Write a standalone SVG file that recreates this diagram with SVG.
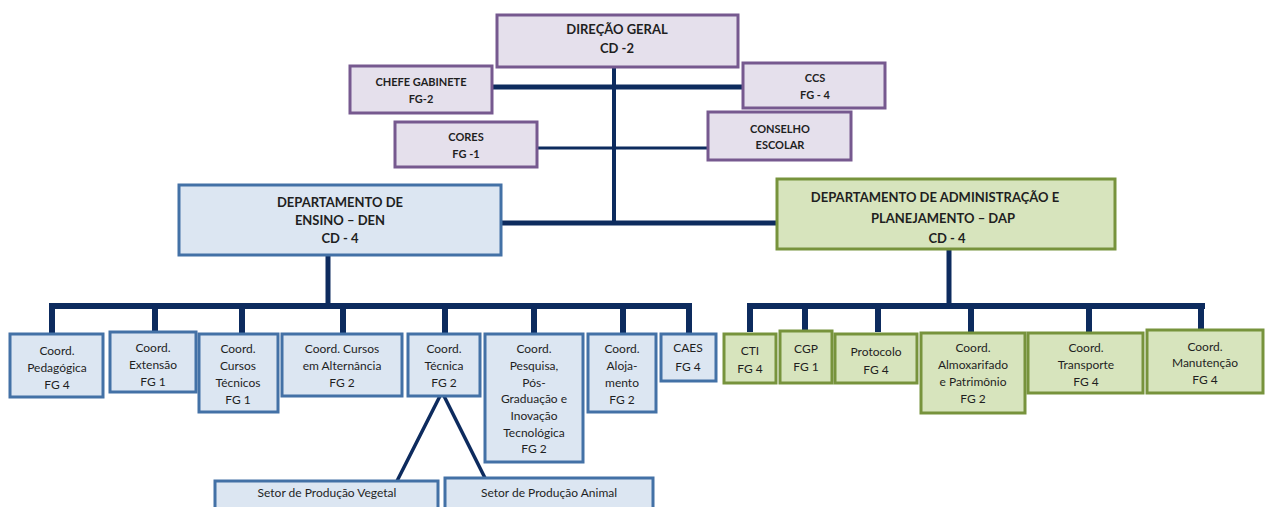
<svg xmlns="http://www.w3.org/2000/svg" width="1269" height="507" viewBox="0 0 1269 507">
<style>
.p{fill:#E5E0EC;stroke:#76598F;stroke-width:3}
.b{fill:#DCE6F2;stroke:#4371A6;stroke-width:3}
.g{fill:#D7E4BD;stroke:#77933C;stroke-width:3}
text{font-family:Lato,"Liberation Sans",sans-serif;fill:#1f1f1f;text-anchor:middle}
.h{font-weight:bold;font-size:13px}
.s{font-weight:bold;font-size:11px}
.t{font-size:12px}
.c{stroke:#0D2B5E;fill:none;stroke-linecap:butt}
</style>
<g id="connectors">
<path class="c" stroke-width="4" d="M614,67V224"/>
<path class="c" stroke-width="5" d="M492,87H743"/>
<path class="c" stroke-width="3" d="M537,148H708"/>
<path class="c" stroke-width="5" d="M502,223H777"/>
<path class="c" stroke-width="5" d="M328,256V306"/>
<path class="c" stroke-width="6" d="M49,306H692"/>
<path class="c" stroke-width="6" d="M52,306V334M155,306V332M242,306V334M343,306V334M445,306V334M534,306V334M623,306V334M689,306V334"/>
<path class="c" stroke-width="5" d="M949,250V306"/>
<path class="c" stroke-width="6" d="M747,306H1205"/>
<path class="c" stroke-width="6" d="M750,306V332M805,306V331M878,306V332M971,306V333M1089,306V333M1201,306V330"/>
<path class="c" stroke-width="3.5" d="M440,396L397,481M444,396L485,478"/>
</g>
<g id="dg"><rect class="p" x="497" y="15" width="241" height="52"/><text class="h" x="617" y="34">DIREÇÃO GERAL</text><text class="h" x="617" y="53">CD -2</text></g>
<g id="chefe"><rect class="p" x="350" y="66" width="142" height="47"/><text class="s" x="421" y="86">CHEFE GABINETE</text><text class="s" x="421" y="103">FG-2</text></g>
<g id="ccs"><rect class="p" x="743" y="63" width="142" height="45"/><text class="s" x="815" y="82">CCS</text><text class="s" x="815" y="99">FG - 4</text></g>
<g id="cores"><rect class="p" x="395" y="122" width="142" height="45"/><text class="s" x="466" y="141">CORES</text><text class="s" x="466" y="158">FG -1</text></g>
<g id="conselho"><rect class="p" x="708" y="112" width="143" height="48"/><text class="s" x="780" y="133">CONSELHO</text><text class="s" x="780" y="149">ESCOLAR</text></g>
<g id="den"><rect class="b" x="179" y="185" width="322" height="70"/><text class="h" x="340" y="207">DEPARTAMENTO DE</text><text class="h" x="340" y="225">ENSINO – DEN</text><text class="h" x="340" y="243">CD - 4</text></g>
<g id="dap"><rect class="g" x="777" y="179" width="338" height="70"/><text class="h" x="935" y="202">DEPARTAMENTO DE ADMINISTRAÇÃO E</text><text class="h" x="943" y="223">PLANEJAMENTO – DAP</text><text class="h" x="947" y="243">CD - 4</text></g>
<g id="ped"><rect class="b" x="10" y="334" width="93" height="63"/><text class="t" x="57" y="355">Coord.</text><text class="t" x="57" y="372">Pedagógica</text><text class="t" x="57" y="389">FG 4</text></g>
<g id="ext"><rect class="b" x="110" y="332" width="86" height="60"/><text class="t" x="153" y="352">Coord.</text><text class="t" x="153" y="369">Extensão</text><text class="t" x="153" y="386">FG 1</text></g>
<g id="ct"><rect class="b" x="199" y="334" width="79" height="78"/><text class="t" x="238" y="353">Coord.</text><text class="t" x="238" y="370">Cursos</text><text class="t" x="238" y="387">Técnicos</text><text class="t" x="238" y="404">FG 1</text></g>
<g id="alt"><rect class="b" x="282" y="334" width="120" height="62"/><text class="t" x="342" y="353">Coord. Cursos</text><text class="t" x="342" y="370">em Alternância</text><text class="t" x="342" y="387">FG 2</text></g>
<g id="tec"><rect class="b" x="408" y="334" width="72" height="62"/><text class="t" x="444" y="353">Coord.</text><text class="t" x="444" y="370">Técnica</text><text class="t" x="444" y="387">FG 2</text></g>
<g id="pesq"><rect class="b" x="485" y="334" width="98" height="128"/><text class="t" x="534" y="353">Coord.</text><text class="t" x="534" y="370">Pesquisa,</text><text class="t" x="534" y="387">Pós-</text><text class="t" x="534" y="403">Graduação e</text><text class="t" x="534" y="420">Inovação</text><text class="t" x="534" y="437">Tecnológica</text><text class="t" x="534" y="453">FG 2</text></g>
<g id="aloj"><rect class="b" x="588" y="334" width="68" height="78"/><text class="t" x="622" y="353">Coord.</text><text class="t" x="622" y="370">Aloja-</text><text class="t" x="622" y="387">mento</text><text class="t" x="622" y="404">FG 2</text></g>
<g id="caes"><rect class="b" x="661" y="334" width="55" height="47"/><text class="t" x="688" y="352">CAES</text><text class="t" x="688" y="371">FG 4</text></g>
<g id="veg"><rect class="b" x="215" y="481" width="223" height="40"/><text class="t" x="327" y="497">Setor de Produção Vegetal</text></g>
<g id="ani"><rect class="b" x="445" y="478" width="208" height="43"/><text class="t" x="549" y="497">Setor de Produção Animal</text></g>
<g id="cti"><rect class="g" x="724" y="334" width="52" height="49"/><text class="t" x="750" y="355">CTI</text><text class="t" x="750" y="373">FG 4</text></g>
<g id="cgp"><rect class="g" x="780" y="331" width="52" height="52"/><text class="t" x="806" y="353">CGP</text><text class="t" x="806" y="371">FG 1</text></g>
<g id="prot"><rect class="g" x="835" y="334" width="82" height="49"/><text class="t" x="876" y="356">Protocolo</text><text class="t" x="876" y="374">FG 4</text></g>
<g id="almox"><rect class="g" x="921" y="333" width="104" height="80"/><text class="t" x="973" y="352">Coord.</text><text class="t" x="973" y="369">Almoxarifado</text><text class="t" x="973" y="386">e Patrimônio</text><text class="t" x="973" y="403">FG 2</text></g>
<g id="transp"><rect class="g" x="1028" y="333" width="115" height="60"/><text class="t" x="1086" y="352">Coord.</text><text class="t" x="1086" y="369">Transporte</text><text class="t" x="1086" y="386">FG 4</text></g>
<g id="manut"><rect class="g" x="1147" y="330" width="116" height="63"/><text class="t" x="1205" y="351">Coord.</text><text class="t" x="1205" y="367">Manutenção</text><text class="t" x="1205" y="384">FG 4</text></g>
</svg>
